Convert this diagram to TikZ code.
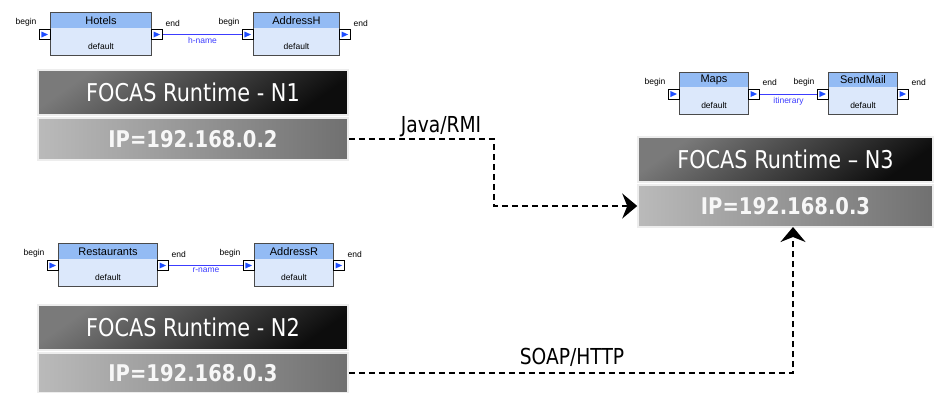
\documentclass[tikz,border=0pt]{standalone}
\usepackage{fontspec}
\setmainfont{DejaVu Sans}
\newfontfamily\focasfont[FakeStretch=0.85]{DejaVu Sans}
\newfontfamily\wffont{Liberation Sans}
\usetikzlibrary{arrows.meta}
\definecolor{taskhead}{HTML}{93BBF4}
\definecolor{taskbody}{HTML}{DCE8FB}
\definecolor{taskedge}{HTML}{4A4A4A}
\definecolor{portblue}{HTML}{1E4DFF}
\definecolor{linkblue}{HTML}{3C3CFF}
\tikzset{
  taskbox/.style={rectangle, fill=taskbody, minimum height=42pt, inner sep=0pt},
  tasktitle/.style={font=\wffont\fontsize{11}{12}\selectfont, inner sep=0pt},
  taskdef/.style={font=\wffont\fontsize{8.5}{10}\selectfont, inner sep=0pt},
  portlabel/.style={font=\wffont\fontsize{8.5}{10}\selectfont, inner sep=2.5pt},
  linklabel/.style={font=\wffont\fontsize{8.5}{10}\selectfont, text=linkblue, inner sep=2.5pt},
  wflink/.style={draw=linkblue, line width=0.8pt},
  port/.style={rectangle, draw=black, fill=white, line width=0.7pt,
    minimum width=11pt, minimum height=10pt, inner sep=0pt,
    path picture={\fill[portblue] ([shift={(2pt,-2pt)}]path picture bounding box.north west)
      -- ([shift={(2pt,2pt)}]path picture bounding box.south west)
      -- ([xshift=-2.5pt]path picture bounding box.east) -- cycle;}},
  runtitle/.style={rectangle, draw=black!7, line width=1.5pt, minimum height=45pt,
    top color=black!52, bottom color=black!95, shading angle=35,
    text=white, font=\focasfont\fontsize{24.5}{28}\selectfont},
  runip/.style={rectangle, draw=black!7, line width=1.5pt,
    left color=black!27, right color=black!56,
    text=black!3, font=\focasfont\bfseries\fontsize{23}{26}\selectfont},
  proto/.style={font=\focasfont\fontsize{22}{24}\selectfont, inner sep=0pt},
  remote/.style={line width=1.9pt, dash pattern=on 6pt off 4pt,
    -{Stealth[length=15pt, width=25pt, inset=5pt]}}
}
% one workflow task: name, position, width, title
\newcommand{\wftask}[4]{%
  \node[taskbox, minimum width=#3] (#1) at #2 {};
  \fill[taskhead] (#1.north west) rectangle ([yshift=-15pt]#1.north east);
  \draw[taskedge, line width=0.8pt] (#1.north west) rectangle (#1.south east);
  \node[tasktitle] (#1-t) at ([yshift=-7.5pt]#1.north) {#4};
  \node[taskdef] (#1-d) at ([yshift=9pt]#1.south) {default};
  \node[port, anchor=east] (#1-in) at ([yshift=-0.5pt]#1.west) {};
  \node[port, anchor=west] (#1-out) at ([yshift=-0.5pt]#1.east) {};
  \node[portlabel, anchor=south east] (#1-b) at (#1-in.north west) {begin};
  \node[portlabel, anchor=south west] (#1-e) at (#1-out.north east) {end};
}
\begin{document}
\begin{tikzpicture}
    [x=1pt, y=-1pt]
    \useasboundingbox (0,0) rectangle (936,392);
    %workflow on N1
    \wftask{hotels}{(101,34)}{100pt}{Hotels}
    \wftask{addrh}{(296.5,34)}{85pt}{AddressH}
    \draw[wflink] (hotels-out.east) -- (addrh-in.west)
      node[midway, below, linklabel] (hname) {h-name};
    %workflow on N2
    \wftask{rest}{(108,265)}{98pt}{Restaurants}
    \wftask{addrr}{(294,265)}{78pt}{AddressR}
    \draw[wflink] (rest-out.east) -- (addrr-in.west)
      node[midway, below, linklabel] (rname) {r-name};
    %workflow on N3
    \wftask{maps}{(714,93.5)}{68pt}{Maps}
    \wftask{mail}{(863,93.5)}{68pt}{SendMail}
    \draw[wflink] (maps-out.east) -- (mail-in.west)
      node[midway, below, linklabel] (itin) {itinerary};
    %runtime nodes
    \node[runtitle, minimum width=310pt] (n1) at (193,92.5) {FOCAS Runtime - N1};
    \node[runip, minimum width=310pt, minimum height=42pt] (n1ip) at (193,139) {IP=192.168.0.2};
    \node[runtitle, minimum width=310pt] (n2) at (193,327.5) {FOCAS Runtime - N2};
    \node[runip, minimum width=310pt, minimum height=40pt] (n2ip) at (193,373) {IP=192.168.0.3};
    \node[runtitle, minimum width=295pt] (n3) at (785.5,159.5) {FOCAS Runtime – N3};
    \node[runip, minimum width=295pt, minimum height=42pt] (n3ip) at (785.5,206) {IP=192.168.0.3};
    %remote calls
    \coordinate (rmibend) at (494,139);
    \coordinate (soapup) at (793,227);
    \draw[remote] (n1ip.east) -- (rmibend) |- (n3ip.west);
    \draw[remote] (n2ip.east) -| (soapup);
    \node[proto] (rmi) at (441,127) {Java/RMI};
    \node[proto] (soap) at (572,357) {SOAP/HTTP};
\end{tikzpicture}
\end{document}
